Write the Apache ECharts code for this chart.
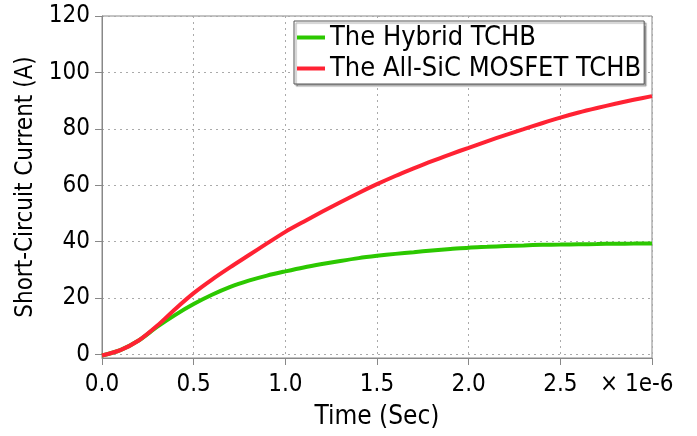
<!DOCTYPE html>
<html>
<head>
<meta charset="utf-8">
<script src="https://cdn.jsdelivr.net/npm/echarts@6/dist/echarts.min.js"></script>
<style>html,body{margin:0;padding:0;background:#fff}#c{width:697px;height:436px}</style>
</head>
<body>
<div id="c"></div>
<script>
// time in microseconds (axis shows × 1e-6 s)
const timeUs = [0, 0.1, 0.2, 0.3, 0.4, 0.5, 0.6, 0.7, 0.8, 0.9, 1.0, 1.1, 1.2, 1.3, 1.4, 1.5, 1.6, 1.7, 1.8, 1.9, 2.0, 2.1, 2.2, 2.3, 2.4, 2.5, 2.6, 2.7, 2.8, 2.9, 3.0];
const hybrid = [-0.3, 1.6, 5.0, 9.8, 14.1, 17.9, 21.2, 24.0, 26.2, 28.0, 29.5, 30.9, 32.1, 33.2, 34.2, 35.0, 35.7, 36.3, 36.9, 37.4, 37.9, 38.2, 38.5, 38.7, 38.9, 39.0, 39.1, 39.2, 39.3, 39.35, 39.4];
const allSiC = [-0.3, 1.6, 5.0, 10.2, 16.2, 21.8, 26.6, 31.0, 35.2, 39.4, 43.5, 47.1, 50.6, 54.0, 57.3, 60.4, 63.3, 66.0, 68.6, 71.0, 73.3, 75.6, 77.8, 79.9, 82.0, 84.0, 85.8, 87.4, 88.9, 90.3, 91.6];
const seriesNames = ['The Hybrid TCHB', 'The All-SiC MOSFET TCHB'];
const yTicks = [0, 20, 40, 60, 80, 100, 120];
const xTicks = [0, 0.5, 1.0, 1.5, 2.0, 2.5, 3.0];

const FONT = '"DejaVu Sans Condensed", "DejaVu Sans", sans-serif';
const chart = echarts.init(document.getElementById('c'), null, {renderer: 'canvas'});
const pairs = arr => timeUs.map((t, i) => [t, arr[i]]);
chart.setOption({
  animation: false,
  backgroundColor: '#fff',
  textStyle: {fontFamily: FONT},
  grid: {left: 102, right: 45, top: 16, bottom: 78, show: true, borderColor: '#888', borderWidth: 1,
         containLabel: false, outerBoundsMode: 'none'},
  legend: {
    left: 294, top: 21, orient: 'vertical',
    data: seriesNames,
    icon: 'rect', itemWidth: 28, itemHeight: 4, itemGap: 2,
    padding: [2, 3, 1, 3],
    backgroundColor: '#fff', borderColor: '#555', borderWidth: 1,
    shadowColor: 'rgba(0,0,0,0.35)', shadowOffsetX: 2, shadowOffsetY: 2, shadowBlur: 1,
    textStyle: {fontFamily: FONT, fontSize: 27, color: '#000', lineHeight: 29}
  },
  xAxis: {
    type: 'value', min: 0, max: 3, interval: 0.5,
    name: 'Time (Sec)', nameLocation: 'middle', nameGap: 46,
    nameTextStyle: {fontFamily: FONT, fontSize: 26, color: '#000'},
    axisLine: {show: true, onZero: false, lineStyle: {color: '#888', width: 1}},
    axisTick: {show: true, length: 7, inside: false, lineStyle: {color: '#888'}},
    axisLabel: {
      fontFamily: FONT, fontSize: 24, color: '#000', margin: 15,
      formatter: v => (Math.abs(v - 3) < 1e-9 ? '' : v.toFixed(1))
    },
    splitLine: {show: true, lineStyle: {color: '#aaa', type: [2, 4], width: 1}}
  },
  yAxis: {
    type: 'value', min: -1.2, max: 120,
    name: 'Short-Circuit Current (A)', nameLocation: 'middle', nameGap: 64,
    nameTruncate: {maxWidth: 1000},
    nameTextStyle: {fontFamily: FONT, fontSize: 24, color: '#000'},
    axisLine: {show: true, lineStyle: {color: '#888', width: 1}},
    axisTick: {show: true, length: 7, customValues: yTicks, lineStyle: {color: '#888'}},
    axisLabel: {fontFamily: FONT, fontSize: 24, color: '#000', margin: 12, customValues: yTicks},
    splitLine: {show: true, lineStyle: {color: '#aaa', type: [2, 4], width: 1}}
  },
  graphic: [{
    type: 'text', left: 600, top: 373,
    style: {text: '× 1e-6', font: '24px ' + FONT, fill: '#000'}
  }],
  series: [
    {name: seriesNames[0], type: 'line', data: pairs(hybrid), smooth: 0.3, showSymbol: false,
     lineStyle: {color: '#2cc800', width: 4}, itemStyle: {color: '#2cc800'}},
    {name: seriesNames[1], type: 'line', data: pairs(allSiC), smooth: 0.3, showSymbol: false,
     lineStyle: {color: '#ff2233', width: 4}, itemStyle: {color: '#ff2233'}}
  ]
});
</script>
</body>
</html>
